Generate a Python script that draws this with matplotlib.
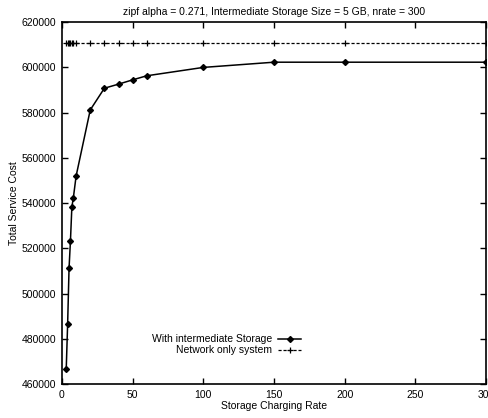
import matplotlib
matplotlib.use("Agg")
import matplotlib.pyplot as plt

plt.rcParams['font.family'] = ['Liberation Sans', 'DejaVu Sans']

rates = [3, 4, 5, 6, 7, 8, 10, 20, 30, 40, 50, 60, 100, 150, 200, 300]
with_storage = [466500, 486500, 511200, 523400, 538400, 542100, 552000, 581200,
                590800, 592600, 594500, 596300, 600000, 602300, 602300, 602300]
network_only = [610700] * len(rates)

fig = plt.figure(figsize=(4.88, 4.18), dpi=100)
ax = fig.add_axes([0.127, 0.081, 0.869, 0.866])

ax.plot(rates, with_storage, color='black', lw=1.1, marker='D', ms=3,
        label='With intermediate Storage')
ax.plot(rates, network_only, color='black', lw=0.9, ls=(0, (2.5, 1.5)), marker='+',
        ms=5, mew=0.9, label='Network only system')

ax.set_xlim(0, 300)
ax.set_ylim(460000, 620000)
ax.set_xticks([0, 50, 100, 150, 200, 250, 300])
ax.set_yticks(range(460000, 620001, 20000))
ax.tick_params(direction='in', length=4, width=1, top=True, right=True,
               labelsize=7.5, pad=4)
for s in ax.spines.values():
    s.set_linewidth(1.2)

ax.set_title('zipf alpha = 0.271, Intermediate Storage Size = 5 GB, nrate = 300',
             fontsize=7.5, pad=5)
ax.set_xlabel('Storage Charging Rate', fontsize=7.5, labelpad=1)
ax.set_ylabel('Total Service Cost', fontsize=7.5, labelpad=2)

leg = ax.legend(loc='lower left', bbox_to_anchor=(0.2, 0.065), frameon=False,
                fontsize=7.5, markerfirst=False, handlelength=2.2,
                handletextpad=0.6, labelspacing=0.1, borderpad=0)
for t in leg.get_texts():
    t.set_ha('right')
leg._legend_box.align = 'right'

fig.savefig('out.png', dpi=100)
